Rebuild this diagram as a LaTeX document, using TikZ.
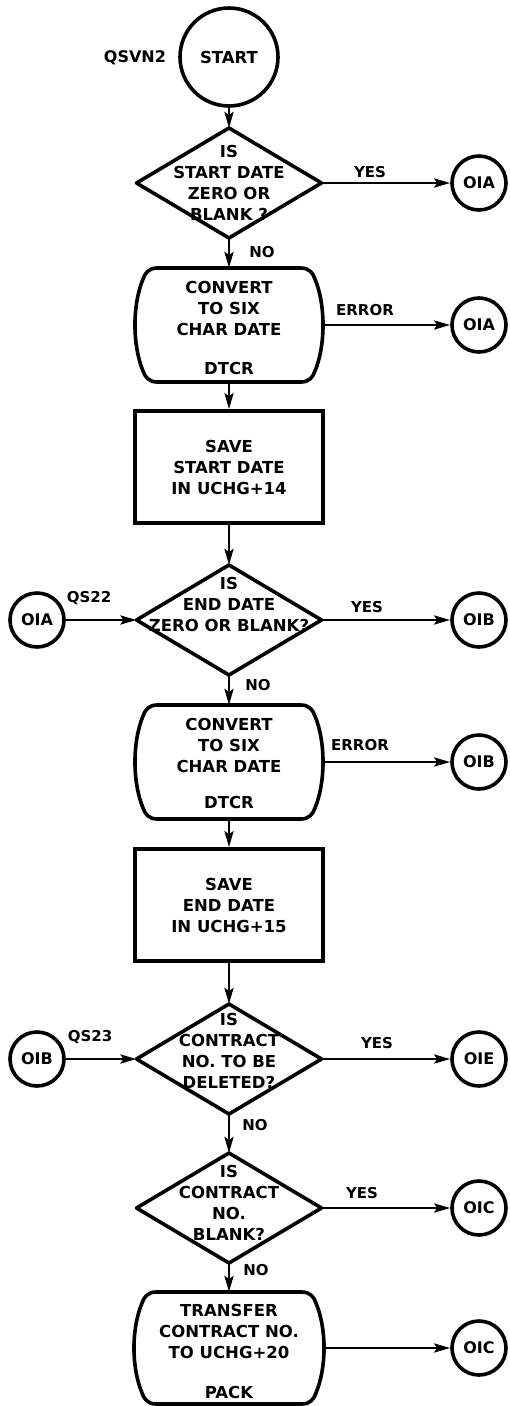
\documentclass[tikz,border=0pt]{standalone}
\usepackage{fontspec}
\setmainfont{DejaVu Sans}
\usetikzlibrary{arrows.meta,calc}
% barrel-shaped outline (straight top and bottom, bulging sides) around a node
% #1 node name, #2 half width, #3 half height
\newcommand\drawbarrel[3]{%
  \draw[outline, shift={(#1.center)}]
    ({-(#2-22)},{-#3}) -- ({#2-22},{-#3})
    .. controls ({#2-14},{-#3}) and ({#2-10},{-(#3-5)}) .. ({#2-8},{-(#3-11)})
    .. controls ({#2+2.7},{-(#3-37)}) and ({#2+2.7},{#3-37}) .. ({#2-8},{#3-11})
    .. controls ({#2-10},{#3-5}) and ({#2-14},{#3}) .. ({#2-22},{#3})
    -- ({-(#2-22)},{#3})
    .. controls ({-(#2-14)},{#3}) and ({-(#2-10)},{#3-5}) .. ({-(#2-8)},{#3-11})
    .. controls ({-(#2+2.7)},{#3-37}) and ({-(#2+2.7)},{-(#3-37)}) .. ({-(#2-8)},{-(#3-11)})
    .. controls ({-(#2-10)},{-(#3-5)}) and ({-(#2-14)},{-#3}) .. ({-(#2-22)},{-#3})
    -- cycle;}
\begin{document}
\begin{tikzpicture}[x=1pt,y=-1pt,
  outline/.style={draw, line width=3.6pt, line join=round},
  hidden/.style={inner sep=0pt, outer sep=0pt},
  txt/.style={align=center, inner sep=0pt, font=\bfseries\fontsize{16.5}{21}\selectfont},
  lbl/.style={inner sep=0pt, font=\bfseries\fontsize{15}{16}\selectfont},
  conn/.style={circle, draw, line width=3.6pt, minimum size=54pt, inner sep=0pt, font=\bfseries\fontsize{16}{16}\selectfont},
  flow/.style={draw, line width=2.8pt, -{Stealth[length=16pt,width=9pt,inset=3pt]}},
  procbox/.style={draw, line width=3.6pt, minimum width=188pt, minimum height=112pt, inner sep=0pt},
  decision/.style={hidden, minimum width=185pt, minimum height=110pt},
  special/.style={hidden, minimum width=188pt, minimum height=114pt}
]
\useasboundingbox (0,0) rectangle (510,1406);

% start terminal
\node[circle, draw, line width=3.6pt, minimum size=98pt, inner sep=0pt,
      font=\bfseries\fontsize{16.5}{18}\selectfont] (start) at (229,57) {START};
\node[lbl, font=\bfseries\fontsize{16}{18}\selectfont] (qsvn) at (135,58) {QSVN2};

% first decision: start date
\node[decision] (d1) at (229,183) {};
\draw[outline] (d1.north) -- (d1.east) -- (d1.south) -- (d1.west) -- cycle;
\node[txt] (d1t) at (229,183) {IS\\START DATE\\ZERO OR\\BLANK ?};
\node[conn] (c1) at (479,183) {OIA};
\node[lbl] (y1) at (370,172) {YES};
\node[lbl] (n1) at (262,252) {NO};

% date conversion (DTCR)
\node[special] (cv1) at (229,325) {};
\drawbarrel{cv1}{94}{57}
\node[txt] (cv1t) at (229,308) {CONVERT\\TO SIX\\CHAR DATE};
\node[txt] (cv1s) at (229,368) {DTCR};
\node[conn] (c2) at (479,325) {OIA};
\node[lbl] (e1) at (365,310) {ERROR};

% save start date
\node[procbox] (r1) at (229,467) {};
\node[txt] (r1t) at (229,467) {SAVE\\START DATE\\IN UCHG+14};

% second decision: end date
\node[decision] (d2) at (229,620) {};
\draw[outline] (d2.north) -- (d2.east) -- (d2.south) -- (d2.west) -- cycle;
\node[txt] (d2t) at (229,604) {IS\\END DATE\\ZERO OR BLANK?};
\node[conn] (l1) at (37,620) {OIA};
\node[lbl] (q22) at (89,598) {QS22};
\node[conn] (c3) at (479,620) {OIB};
\node[lbl] (y2) at (367,607) {YES};
\node[lbl] (n2) at (258,685) {NO};

% date conversion (DTCR)
\node[special] (cv2) at (229,762) {};
\drawbarrel{cv2}{94}{57}
\node[txt] (cv2t) at (229,745) {CONVERT\\TO SIX\\CHAR DATE};
\node[txt] (cv2s) at (229,802) {DTCR};
\node[conn] (c4) at (479,762) {OIB};
\node[lbl] (e2) at (360,745) {ERROR};

% save end date
\node[procbox] (r2) at (229,905) {};
\node[txt] (r2t) at (229,905) {SAVE\\END DATE\\IN UCHG+15};

% third decision: contract number deletion
\node[decision] (d3) at (229,1059) {};
\draw[outline] (d3.north) -- (d3.east) -- (d3.south) -- (d3.west) -- cycle;
\node[txt] (d3t) at (229,1051) {IS\\CONTRACT\\NO. TO BE\\DELETED?};
\node[conn] (l2) at (37,1059) {OIB};
\node[lbl] (q23) at (90,1037) {QS23};
\node[conn] (c5) at (479,1059) {OIE};
\node[lbl] (y3) at (377,1043) {YES};
\node[lbl] (n3) at (255,1125) {NO};

% fourth decision: blank contract number
\node[decision] (d4) at (229,1208) {};
\draw[outline] (d4.north) -- (d4.east) -- (d4.south) -- (d4.west) -- cycle;
\node[txt] (d4t) at (229,1203) {IS\\CONTRACT\\NO.\\BLANK?};
\node[conn] (c6) at (479,1208) {OIC};
\node[lbl] (y4) at (362,1193) {YES};
\node[lbl] (n4) at (256,1270) {NO};

% transfer (PACK)
\node[special, minimum height=112pt, minimum width=190pt] (tr) at (229,1348) {};
\drawbarrel{tr}{95}{56}
\node[txt] (trt) at (229,1331) {TRANSFER\\CONTRACT NO.\\TO UCHG+20};
\node[txt] (trs) at (229,1392) {PACK};
\node[conn] (c7) at (479,1348) {OIC};

% connectors
\draw[flow] (start) -- (d1.north);
\draw[flow] (d1.east) -- (c1);
\draw[flow] (d1.south) -- (cv1.north);
\draw[flow] (cv1.east) -- (c2);
\draw[flow] (cv1.south) -- (r1.north);
\draw[flow] (r1.south) -- (d2.north);
\draw[flow] (l1) -- (d2.west);
\draw[flow] (d2.east) -- (c3);
\draw[flow] (d2.south) -- (cv2.north);
\draw[flow] (cv2.east) -- (c4);
\draw[flow] (cv2.south) -- (r2.north);
\draw[flow] (r2.south) -- (d3.north);
\draw[flow] (l2) -- (d3.west);
\draw[flow] (d3.east) -- (c5);
\draw[flow] (d3.south) -- (d4.north);
\draw[flow] (d4.east) -- (c6);
\draw[flow] (d4.south) -- (tr.north);
\draw[flow] (tr.east) -- (c7);
\end{tikzpicture}
\end{document}
